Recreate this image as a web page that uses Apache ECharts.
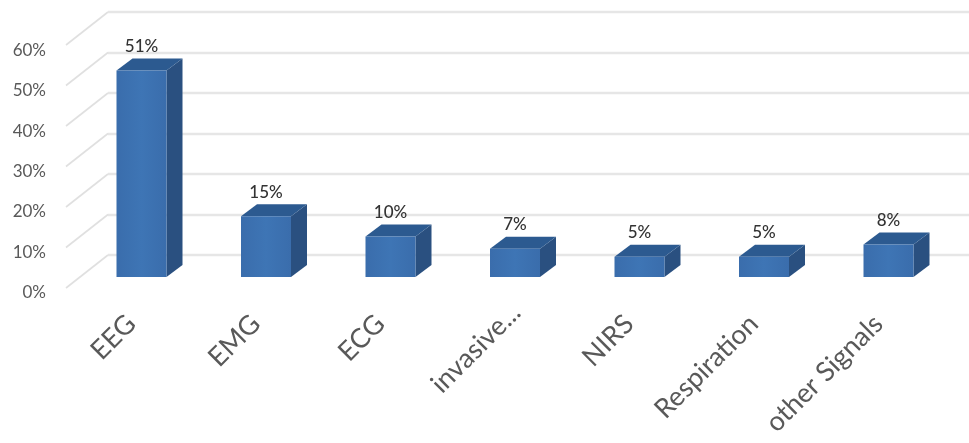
<!DOCTYPE html>
<html>
<head>
<meta charset="utf-8">
<style>html,body{margin:0;padding:0;background:#fff}#chart{width:969px;height:443px}</style>
<script src="https://cdn.jsdelivr.net/npm/echarts@6/dist/echarts.min.js"></script>
</head>
<body>
<div id="chart"></div>
<script>
// Share of recorded signal types
const categories = ['EEG', 'EMG', 'ECG', 'invasive...', 'NIRS', 'Respiration', 'other Signals'];
const shares = [51, 15, 10, 7, 5, 5, 8];
const percentTicks = [0, 10, 20, 30, 40, 50, 60];

// Oblique projection of the 3D column look
const WALL_LEFT = 108, WALL_TOP = 12, WALL_H = 243, BAND = 124.5, PAGE_W = 969;
const SIDE_DX = -42, SIDE_DY = 33;      // side wall: back edge to front edge
const BAR_W = 50, BAR_DX = 16, BAR_DY = 12, BAR_DROP = 22, BAR_SHIFT = -53.75;
const LABEL_LEFT = 67;

const poly = (points, fill) => ({ type: 'polygon', shape: { points }, style: { fill } });

function renderColumn(params, api) {
  const base = api.coord([api.value(0), 0]);
  const top = api.coord([api.value(0), api.value(1)]);
  const x0 = base[0] + BAR_SHIFT, x1 = x0 + BAR_W;
  const y0 = base[1] + BAR_DROP, y1 = top[1] + BAR_DROP;
  return {
    type: 'group',
    children: [
      poly([[x1, y1], [x1 + BAR_DX, y1 - BAR_DY], [x1 + BAR_DX, y0 - BAR_DY], [x1, y0]], '#2a5080'),
      poly([[x0, y1], [x0 + BAR_DX, y1 - BAR_DY], [x1 + BAR_DX, y1 - BAR_DY], [x1, y1]], '#2c5a90'),
      {
        type: 'rect',
        shape: { x: x0, y: y1, width: BAR_W, height: y0 - y1 },
        style: {
          fill: new echarts.graphic.LinearGradient(0, 0, 1, 0, [
            { offset: 0, color: '#3a6dac' },
            { offset: 0.5, color: '#3e75b5' },
            { offset: 1, color: '#3a6dac' }
          ])
        }
      },
      {
        type: 'text',
        style: {
          x: x0 + BAR_W / 2, y: y1 - BAR_DY - 12,
          text: api.value(1) + '%',
          align: 'center', verticalAlign: 'middle',
          font: '500 17px Lato', fill: '#333333'
        }
      }
    ]
  };
}

function renderSideLine(params, api) {
  const p = api.coord([0, api.value(0)]);
  return {
    type: 'line',
    shape: { x1: WALL_LEFT, y1: p[1], x2: WALL_LEFT + SIDE_DX, y2: p[1] + SIDE_DY },
    style: { stroke: '#e0e0e0', lineWidth: 1.6 }
  };
}

const chart = echarts.init(document.getElementById('chart'), null, { renderer: 'canvas' });
chart.setOption({
  animation: false,
  backgroundColor: '#ffffff',
  grid: [
    { left: WALL_LEFT, top: WALL_TOP, right: PAGE_W - WALL_LEFT - BAND * 7, height: WALL_H, outerBoundsMode: 'none' },
    { left: LABEL_LEFT + 2, top: 50.5, right: PAGE_W - LABEL_LEFT - 2 - BAND * 7, height: 242, outerBoundsMode: 'none' }
  ],
  xAxis: [
    { gridIndex: 0, type: 'category', data: categories, axisLine: { show: false }, axisTick: { show: false }, axisLabel: { show: false } },
    {
      gridIndex: 1, type: 'category',
      // The truncated label sits further along its slant than the others
      data: categories.map(c => c.endsWith('...') ? { value: c, textStyle: { padding: [0, -16, 0, 0] } } : c),
      axisLine: { show: false }, axisTick: { show: false },
      axisLabel: { rotate: 45, interval: 0, margin: 27, fontFamily: 'Lato', fontSize: 27, color: '#595959' }
    }
  ],
  yAxis: [
    {
      gridIndex: 0, type: 'value', min: 0, max: 60, interval: 10,
      axisLine: { show: false }, axisTick: { show: false }, axisLabel: { show: false },
      splitLine: { show: true, lineStyle: { color: '#e6e6e6', width: 2.4 } }
    },
    {
      gridIndex: 1, type: 'value', min: 0, max: 60, interval: 10,
      axisLine: { show: false }, axisTick: { show: false }, splitLine: { show: false },
      axisLabel: { margin: 23, formatter: '{value}%', fontFamily: 'Lato', fontSize: 17, color: '#595959' }
    }
  ],
  series: [
    {
      type: 'custom', xAxisIndex: 0, yAxisIndex: 0, renderItem: renderSideLine,
      data: percentTicks.map(t => [t]), encode: { y: 0 }, silent: true
    },
    {
      type: 'custom', xAxisIndex: 0, yAxisIndex: 0, renderItem: renderColumn,
      data: shares.map((v, i) => [i, v]), encode: { x: 0, y: 1 }
    }
  ]
});
</script>
</body>
</html>
